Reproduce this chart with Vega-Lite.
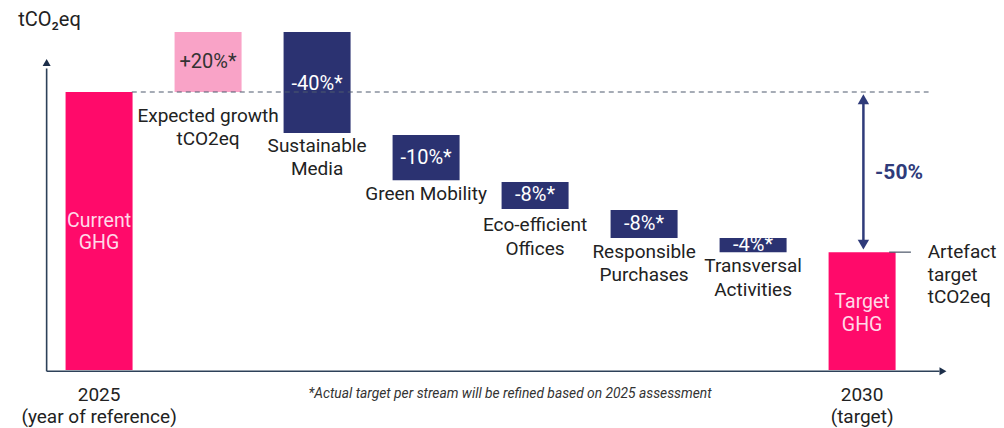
{
  "$schema": "https://vega.github.io/schema/vega-lite/v6.json",
  "width": 1004,
  "height": 428,
  "padding": 0,
  "autosize": {"type": "none"},
  "background": "#ffffff",
  "config": {"view": {"stroke": null}, "font": "Roboto"},
  "datasets": {
    "bars": [
      {"step": "Current GHG", "kind": "base", "i": 0, "y0": 0, "y1": 100},
      {"step": "Expected growth", "kind": "increase", "i": 1, "y0": 100, "y1": 121.6},
      {"step": "Sustainable Media", "kind": "decrease", "i": 2, "y0": 85.3, "y1": 121.6},
      {"step": "Green Mobility", "kind": "decrease", "i": 3, "y0": 68.3, "y1": 84.5},
      {"step": "Eco-efficient Offices", "kind": "decrease", "i": 4, "y0": 57.9, "y1": 67.6},
      {"step": "Responsible Purchases", "kind": "decrease", "i": 5, "y0": 47.5, "y1": 57.6},
      {"step": "Transversal Activities", "kind": "decrease", "i": 6, "y0": 42.4, "y1": 47.5},
      {"step": "Target GHG", "kind": "base", "i": 7, "y0": 0, "y1": 42.4}
    ],
    "axes": [
      {"name": "y axis", "x": -0.481, "x2": -0.481, "y": -0.45, "y2": 108.5},
      {"name": "x axis", "x": -0.481, "x2": 7.71, "y": -0.45, "y2": -0.45}
    ],
    "heads": [
      {"name": "y axis", "x": -0.481, "y": 110.6, "dir": "up", "grp": "axis"},
      {"name": "x axis", "x": 7.742, "y": -0.45, "dir": "right", "grp": "axis"},
      {"name": "gap top", "x": 7.012, "y": 97.4, "dir": "up", "grp": "gap"},
      {"name": "gap bottom", "x": 7.012, "y": 45.1, "dir": "down", "grp": "gap"}
    ],
    "labels": [
      {"t": "+20%*", "role": "light", "i": 1, "y": 110.8},
      {"t": "-40%*", "role": "navy", "i": 2, "y": 102.9},
      {"t": "-10%*", "role": "navy", "i": 3, "y": 76.3},
      {"t": "-8%*", "role": "navy", "i": 4, "y": 62.9},
      {"t": "-8%*", "role": "navy", "i": 5, "y": 52.5},
      {"t": "-4%*", "role": "navy", "i": 6, "y": 45.0},
      {"t": "Current", "role": "hot", "i": 0, "y": 53.6},
      {"t": "GHG", "role": "hot", "i": 0, "y": 45.7},
      {"t": "Target", "role": "hot", "i": 7, "y": 24.5},
      {"t": "GHG", "role": "hot", "i": 7, "y": 16.2},
      {"t": "Expected growth", "role": "step", "i": 1, "y": 91.4},
      {"t": "tCO2eq", "role": "step", "i": 1, "y": 83.1},
      {"t": "Sustainable", "role": "step", "i": 2, "y": 80.6},
      {"t": "Media", "role": "step", "i": 2, "y": 72.3},
      {"t": "Green Mobility", "role": "step", "i": 3, "y": 63.3},
      {"t": "Eco-efficient", "role": "step", "i": 4, "y": 52.2},
      {"t": "Offices", "role": "step", "i": 4, "y": 43.5},
      {"t": "Responsible", "role": "step", "i": 5, "y": 42.4},
      {"t": "Purchases", "role": "step", "i": 5, "y": 34.2},
      {"t": "Transversal", "role": "step", "i": 6, "y": 37.4},
      {"t": "Activities", "role": "step", "i": 6, "y": 28.8},
      {"t": "2025", "role": "step", "i": 0, "y": -9.0},
      {"t": "(year of reference)", "role": "step", "i": 0, "y": -16.9},
      {"t": "2030", "role": "step", "i": 7, "y": -9.0},
      {"t": "(target)", "role": "step", "i": 7, "y": -16.9}
    ],
    "side": [
      {"t": "Artefact", "i": 7.602, "y": 42.4},
      {"t": "target", "i": 7.602, "y": 34.2},
      {"t": "tCO2eq", "i": 7.602, "y": 26.3}
    ]
  },
  "encoding": {
    "x": {"type": "quantitative", "scale": {"domain": [-0.863, 8.256], "nice": false, "zero": false}, "axis": null},
    "y": {"type": "quantitative", "scale": {"domain": [-20.86, 133.1], "nice": false, "zero": false}, "axis": null}
  },
  "layer": [
    {
      "data": {"name": "bars"},
      "mark": {"type": "bar", "orient": "vertical", "width": 67},
      "encoding": {
        "x": {"field": "i", "type": "quantitative"},
        "y": {"field": "y0", "type": "quantitative"},
        "y2": {"field": "y1"},
        "color": {"field": "kind", "type": "nominal", "scale": {"domain": ["base", "increase", "decrease"], "range": ["#ff0a6a", "#f9a3c7", "#2b3271"]}, "legend": null}
      }
    },
    {
      "data": {"values": [{"name": "reference level", "x": 0.3, "x2": 7.61, "y": 100}]},
      "mark": {"type": "rule", "color": "#4f5a6e", "strokeWidth": 1.2, "strokeDash": [5, 4]},
      "encoding": {
        "x": {"field": "x", "type": "quantitative"},
        "x2": {"field": "x2"},
        "y": {"field": "y", "type": "quantitative"}
      }
    },
    {
      "data": {"name": "axes"},
      "mark": {"type": "rule", "color": "#2d4159", "strokeWidth": 1.6},
      "encoding": {
        "x": {"field": "x", "type": "quantitative"},
        "x2": {"field": "x2"},
        "y": {"field": "y", "type": "quantitative"},
        "y2": {"field": "y2"}
      }
    },
    {
      "data": {"values": [{"name": "gap", "x": 7.012, "y": 46.5, "y2": 96.5}]},
      "mark": {"type": "rule", "color": "#2f3b7a", "strokeWidth": 2.5},
      "encoding": {
        "x": {"field": "x", "type": "quantitative"},
        "y": {"field": "y", "type": "quantitative"},
        "y2": {"field": "y2"}
      }
    },
    {
      "data": {"values": [{"name": "artefact", "x": 7.248, "x2": 7.448, "y": 42.4}]},
      "mark": {"type": "rule", "color": "#4a5568", "strokeWidth": 1.2},
      "encoding": {
        "x": {"field": "x", "type": "quantitative"},
        "x2": {"field": "x2"},
        "y": {"field": "y", "type": "quantitative"}
      }
    },
    {
      "data": {"name": "heads"},
      "transform": [{"filter": "datum.grp === 'axis'"}],
      "mark": {"type": "point", "filled": true, "opacity": 1, "size": 65, "color": "#1c2f4a"},
      "encoding": {
        "x": {"field": "x", "type": "quantitative"},
        "y": {"field": "y", "type": "quantitative"},
        "shape": {"field": "dir", "type": "nominal", "scale": {"domain": ["up", "right", "down"], "range": ["triangle-up", "triangle-right", "triangle-down"]}, "legend": null}
      }
    },
    {
      "data": {"name": "heads"},
      "transform": [{"filter": "datum.grp === 'gap'"}],
      "mark": {"type": "point", "filled": true, "opacity": 1, "size": 130, "color": "#2f3b7a"},
      "encoding": {
        "x": {"field": "x", "type": "quantitative"},
        "y": {"field": "y", "type": "quantitative"},
        "shape": {"field": "dir", "type": "nominal", "scale": {"domain": ["up", "right", "down"], "range": ["triangle-up", "triangle-right", "triangle-down"]}, "legend": null}
      }
    },
    {
      "data": {"name": "labels"},
      "transform": [{"filter": "datum.role === 'navy'"}],
      "mark": {"type": "text", "align": "center", "baseline": "middle", "fontSize": 20, "color": "#ffffff"},
      "encoding": {"x": {"field": "i", "type": "quantitative"}, "y": {"field": "y", "type": "quantitative"}, "text": {"field": "t"}}
    },
    {
      "data": {"name": "labels"},
      "transform": [{"filter": "datum.role === 'light'"}],
      "mark": {"type": "text", "align": "center", "baseline": "middle", "fontSize": 20, "color": "#333333"},
      "encoding": {"x": {"field": "i", "type": "quantitative"}, "y": {"field": "y", "type": "quantitative"}, "text": {"field": "t"}}
    },
    {
      "data": {"name": "labels"},
      "transform": [{"filter": "datum.role === 'hot'"}],
      "mark": {"type": "text", "align": "center", "baseline": "middle", "fontSize": 19.5, "color": "#ffd9e8"},
      "encoding": {"x": {"field": "i", "type": "quantitative"}, "y": {"field": "y", "type": "quantitative"}, "text": {"field": "t"}}
    },
    {
      "data": {"name": "labels"},
      "transform": [{"filter": "datum.role === 'step'"}],
      "mark": {"type": "text", "align": "center", "baseline": "middle", "fontSize": 19, "color": "#222222"},
      "encoding": {"x": {"field": "i", "type": "quantitative"}, "y": {"field": "y", "type": "quantitative"}, "text": {"field": "t"}}
    },
    {
      "data": {"name": "side"},
      "mark": {"type": "text", "align": "left", "baseline": "middle", "fontSize": 19, "color": "#222222"},
      "encoding": {"x": {"field": "i", "type": "quantitative"}, "y": {"field": "y", "type": "quantitative"}, "text": {"field": "t"}}
    },
    {
      "data": {"values": [{"t": "-50%", "x": 7.339, "y": 70.9}]},
      "mark": {"type": "text", "align": "center", "baseline": "middle", "fontSize": 21, "fontWeight": "bold", "color": "#2f3b7a"},
      "encoding": {"x": {"field": "x", "type": "quantitative"}, "y": {"field": "y", "type": "quantitative"}, "text": {"field": "t"}}
    },
    {
      "data": {"values": [{"t": "tCO₂eq", "x": -0.742, "y": 125.9}]},
      "mark": {"type": "text", "align": "left", "baseline": "middle", "fontSize": 20, "color": "#222222"},
      "encoding": {"x": {"field": "x", "type": "quantitative"}, "y": {"field": "y", "type": "quantitative"}, "text": {"field": "t"}}
    },
    {
      "data": {"values": [{"t": "*Actual target per stream will be refined based on 2025 assessment", "x": 3.77, "y": -8.6}]},
      "mark": {"type": "text", "align": "center", "baseline": "middle", "fontSize": 13.8, "fontStyle": "italic", "color": "#333333"},
      "encoding": {"x": {"field": "x", "type": "quantitative"}, "y": {"field": "y", "type": "quantitative"}, "text": {"field": "t"}}
    }
  ]
}
